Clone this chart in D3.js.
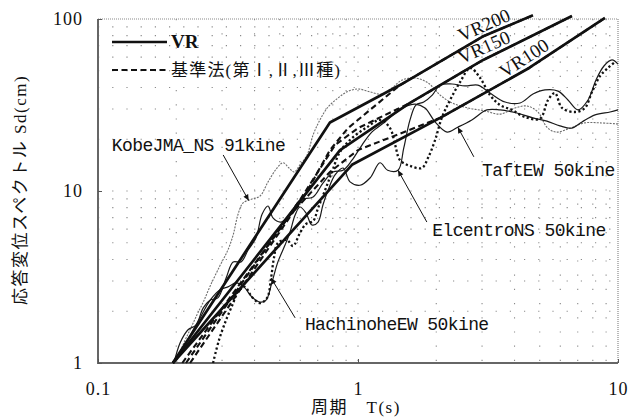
<!DOCTYPE html>
<html>
<head>
<meta charset="utf-8">
<script src="https://cdn.jsdelivr.net/npm/d3@7"></script>
<style>
  body { margin: 0; background: #fff; }
  svg { display: block; }
</style>
</head>
<body>
<svg id="chart" width="635" height="419"></svg>
<script>
// ---- axis ticks ----
const periodTicks = [0.1, 1, 10];
const sdTicks = [1, 10, 100];

// ---- VR design spectra (period s, Sd cm) ----
const vr100T  = [0.194, 0.948, 2.07, 4.55, 8.91];
const vr100Sd = [1, 14.2, 26.6, 51.9, 101.4];
const vr150T  = [0.194, 0.853, 1.585, 3.03, 6.65];
const vr150Sd = [1, 17.3, 32.5, 57.8, 104];
const vr200T  = [0.194, 0.78, 1.451, 3.05, 4.71];
const vr200Sd = [1, 25, 41.3, 79.7, 105];

// ---- 基準法 spectra, ground types I, II, III ----
const kijun1T  = [0.211, 0.548, 0.78, 1.0, 2.07, 4.55, 8.91];
const kijun1Sd = [1, 7.25, 12.9, 17.3, 26.6, 51.9, 101.4];
const kijun2T  = [0.218, 0.598, 0.816, 1.0, 1.585, 3.03, 6.65];
const kijun2Sd = [1, 8.87, 18.5, 23.2, 32.5, 57.8, 104];
const kijun3T  = [0.226, 0.625, 0.78, 0.915, 1.451, 3.05, 4.71];
const kijun3Sd = [1, 9.48, 17.3, 23.2, 41.3, 79.7, 105];

// ---- observed records ----
const kobeT  = [0.20,0.212,0.226,0.240,0.254,0.270,0.294,0.316,0.331,0.345,0.361,0.391,0.420,0.451,0.488,0.515,0.543,0.568,0.598,0.637,0.672,0.714,0.767,0.830,0.907,1.0,1.11,1.24,1.35,1.48,1.66,1.86,2.07,2.30,2.65,3.08,3.52,4.02,4.47,4.92,5.33,5.77,6.54,7.46,8.53,10];
const kobeSd = [1.0,1.27,1.56,1.90,2.26,2.80,3.66,4.54,5.55,7.25,8.51,8.98,9.35,11.3,13.6,14.6,13.6,12.9,14.2,16.2,21.2,25.9,30.8,34.3,37.7,39.2,37.7,36.6,39.7,44.2,45.4,42.5,36.1,32.5,30.4,29.2,28.0,30.4,31.2,28.8,23.5,22.0,23.2,24.9,24.9,24.5];

const taftT  = [0.196,0.207,0.222,0.238,0.254,0.270,0.289,0.311,0.331,0.355,0.378,0.405,0.428,0.451,0.471,0.506,0.548,0.598,0.672,0.733,0.801,0.876,0.948,1.036,1.13,1.27,1.41,1.54,1.66,1.81,1.98,2.20,2.42,2.74,3.13,3.52,4.08,4.71,5.33,5.98,6.65,7.27,8.16,9.32,10];
const taftSd = [1.0,1.31,1.56,1.66,2.09,2.32,2.39,3.12,3.87,3.87,4.54,5.33,7.35,8.18,6.97,6.60,7.35,8.87,9.23,11.1,12.9,13.2,15.1,18.5,22.0,25.2,28.8,31.2,32.0,30.4,25.2,22.0,23.5,25.9,29.6,29.6,28.4,26.6,25.5,23.9,23.2,25.2,27.7,28.8,29.6];

const elcentroT  = [0.196,0.211,0.226,0.247,0.270,0.294,0.316,0.340,0.364,0.391,0.420,0.443,0.467,0.492,0.524,0.548,0.573,0.598,0.631,0.665,0.702,0.733,0.767,0.816,0.876,0.932,1.018,1.112,1.215,1.30,1.425,1.50,1.585,1.67,1.79,1.93,2.07,2.30,2.58,2.89,3.22,3.68,4.20,4.71,5.24,5.88,6.42,7.02,7.67,8.23,8.83,9.48,10];
const elcentroSd = [1.0,1.22,1.45,1.83,2.32,2.66,2.77,2.92,2.77,2.42,2.26,2.32,2.96,3.87,4.85,5.78,7.25,8.07,7.45,6.34,6.60,8.29,10.1,12.4,13.6,11.3,10.8,11.9,14.6,13.2,13.2,17.8,25.9,31.6,32.9,36.1,41.3,41.9,40.8,41.3,37.1,32.9,32.5,36.6,38.7,38.1,33.8,29.6,33.8,44.2,53.3,57.8,54.7];

const hachinoheT  = [0.277,0.292,0.311,0.331,0.345,0.367,0.391,0.420,0.447,0.463,0.475,0.492,0.533,0.562,0.598,0.631,0.672,0.702,0.747,0.794,0.853,0.948,1.083,1.215,1.328,1.39,1.451,1.585,1.76,1.86,1.98,2.10,2.26,2.47,2.70,2.95,3.22,3.52,3.91,4.39,5.01,5.38,5.72,6.09,6.84,7.46,7.94,8.53,9.15,9.72];
const hachinoheSd = [1.0,1.36,1.78,2.23,2.59,2.77,2.42,2.23,2.39,3.12,4.08,4.99,5.19,4.79,5.70,6.43,6.69,7.96,10.1,12.9,16.9,20.3,23.5,25.9,23.2,18.5,15.1,14.0,13.6,15.6,19.8,26.6,33.8,43.0,51.9,45.4,36.1,31.6,29.6,26.9,26.3,33.8,37.1,30.4,28.8,30.4,37.6,46.6,51.9,56.2];

// ---- layout ----
const width = 635, height = 419;
const margin = { left: 98, right: 17, top: 19, bottom: 56 };
const x = d3.scaleLog().domain([0.1, 10]).range([margin.left, width - margin.right]);
const y = d3.scaleLog().domain([1, 100]).range([height - margin.bottom, margin.top]);

const svg = d3.select("#chart");
const serif = "'Liberation Serif', 'Noto Sans CJK JP', serif";
const mono = "'Liberation Mono', 'DejaVu Sans Mono', monospace";

// arrowhead for the record labels
svg.append("defs").append("marker")
  .attr("id", "tip")
  .attr("viewBox", "0 0 10 10")
  .attr("refX", 10).attr("refY", 5)
  .attr("markerWidth", 7).attr("markerHeight", 6)
  .attr("orient", "auto")
  .append("path").attr("d", "M0,0.5 L10,5 L0,9.5 Z").attr("fill", "#111");

// ---- dotted grid at every log step ----
const gridX = [];
const gridY = [];
[0.1, 1].forEach(d => { for (let k = 1; k <= 9; k++) gridX.push(d * k); });
[1, 10].forEach(d => { for (let k = 1; k <= 9; k++) gridY.push(d * k); });
const grid = svg.append("g").attr("stroke", "#8a8a8a").attr("stroke-width", 1.1)
  .attr("stroke-dasharray", "1.2 13");
grid.selectAll("line.gx").data(gridX.filter(v => v > 0.1 && v < 10)).join("line")
  .attr("x1", d => x(d)).attr("x2", d => x(d))
  .attr("y1", y(100)).attr("y2", y(1));
grid.selectAll("line.gy").data(gridY.filter(v => v > 1 && v < 100)).join("line")
  .attr("x1", x(0.1)).attr("x2", x(10))
  .attr("y1", d => y(d)).attr("y2", d => y(d));

// ---- frame: solid left/bottom, dotted top/right ----
svg.append("path")
  .attr("d", `M${x(0.1)},${y(100)} V${y(1)} H${x(10)}`)
  .attr("fill", "none").attr("stroke", "#666").attr("stroke-width", 2);
svg.append("path")
  .attr("d", `M${x(0.1)},${y(100)} H${x(10)} V${y(1)}`)
  .attr("fill", "none").attr("stroke", "#8a8a8a").attr("stroke-width", 1.2)
  .attr("stroke-dasharray", "1 1");

// ---- axes ----
const fmt = d => d3.format("~g")(d);
const xAxis = svg.append("g")
  .attr("transform", `translate(0,${y(1)})`)
  .call(d3.axisBottom(x).tickValues(periodTicks).tickSize(-4).tickPadding(19).tickFormat(fmt));
const yAxis = svg.append("g")
  .attr("transform", `translate(${x(0.1)},0)`)
  .call(d3.axisLeft(y).tickValues(sdTicks).tickSize(-4).tickPadding(15).tickFormat(fmt));
[xAxis, yAxis].forEach(g => {
  g.select(".domain").remove();
  g.selectAll(".tick line").attr("stroke", "#555");
  g.selectAll(".tick text")
    .attr("font-family", serif).attr("font-size", 18).attr("fill", "#111")
    .attr("letter-spacing", 1);
});

// axis titles
svg.append("text")
  .attr("x", 356).attr("y", 413)
  .attr("text-anchor", "middle")
  .attr("font-family", serif).attr("font-size", 17).attr("fill", "#111")
  .attr("letter-spacing", 1.5)
  .text("周期　T(s)");
svg.append("text")
  .attr("transform", "translate(26,190) rotate(-90)")
  .attr("text-anchor", "middle")
  .attr("font-family", serif).attr("font-size", 17).attr("fill", "#111")
  .attr("letter-spacing", 1.5)
  .text("応答変位スペクトル Sd(cm)");

// ---- curves ----
const straight = d3.line().x(d => x(d[0])).y(d => y(d[1]));
const smooth = d3.line().x(d => x(d[0])).y(d => y(d[1])).curve(d3.curveCatmullRom.alpha(0.5));

const plot = svg.append("g").attr("fill", "none");

// records first, design spectra on top
plot.append("path").datum(d3.zip(kobeT, kobeSd)).attr("d", smooth)
  .attr("stroke", "#6e6e6e").attr("stroke-width", 1.1).attr("stroke-dasharray", "2 1.2");
plot.append("path").datum(d3.zip(taftT, taftSd)).attr("d", smooth)
  .attr("stroke", "#1a1a1a").attr("stroke-width", 1.2);
plot.append("path").datum(d3.zip(elcentroT, elcentroSd)).attr("d", smooth)
  .attr("stroke", "#1a1a1a").attr("stroke-width", 1.2);
plot.append("path").datum(d3.zip(hachinoheT, hachinoheSd)).attr("d", smooth)
  .attr("stroke", "#111").attr("stroke-width", 2.3).attr("stroke-dasharray", "2.2 2.4");

[[kijun1T, kijun1Sd], [kijun2T, kijun2Sd], [kijun3T, kijun3Sd]].forEach(([t, s]) => {
  plot.append("path").datum(d3.zip(t, s)).attr("d", straight)
    .attr("stroke", "#111").attr("stroke-width", 2.1).attr("stroke-dasharray", "6 3.5");
});
[[vr100T, vr100Sd], [vr150T, vr150Sd], [vr200T, vr200Sd]].forEach(([t, s]) => {
  plot.append("path").datum(d3.zip(t, s)).attr("d", straight)
    .attr("stroke", "#111").attr("stroke-width", 2.7).attr("stroke-linejoin", "round");
});

// VR labels sitting on their lines
[["VR200", 3.05, 92.3, -24], ["VR150", 3.05, 68.7, -24], ["VR100", 4.35, 59.3, -33]].forEach(([t, T, S, a]) => {
  svg.append("text")
    .attr("transform", `translate(${x(T)},${y(S)}) rotate(${a})`)
    .attr("text-anchor", "middle").attr("dominant-baseline", "central")
    .attr("font-family", serif).attr("font-size", 19).attr("fill", "#111")
    .text(t);
});

// ---- record labels with arrows ----
const notes = [
  { text: "KobeJMA_NS 91kine", lx: 0.113, ly: 17.1, from: [0.303, 16.2], to: [0.38, 8.8] },
  { text: "TaftEW 50kine", lx: 3.0, ly: 12.2, from: [2.79, 15.8], to: [2.42, 23.5] },
  { text: "ElcentroNS 50kine", lx: 1.93, ly: 5.47, from: [1.84, 6.6], to: [1.425, 13.2] },
  { text: "HachinoheEW 50kine", lx: 0.625, ly: 1.56, from: [0.573, 1.83], to: [0.463, 3.12] }
];
notes.forEach(n => {
  svg.append("line")
    .attr("x1", x(n.from[0])).attr("y1", y(n.from[1]))
    .attr("x2", x(n.to[0])).attr("y2", y(n.to[1]))
    .attr("stroke", "#111").attr("stroke-width", 1)
    .attr("marker-end", "url(#tip)");
  svg.append("text")
    .attr("x", x(n.lx)).attr("y", y(n.ly))
    .attr("font-family", mono).attr("font-size", 18).attr("letter-spacing", -0.6)
    .attr("fill", "#111")
    .text(n.text);
});

// ---- legend ----
const legend = svg.append("g");
legend.append("line").attr("x1", 112).attr("x2", 167).attr("y1", 42).attr("y2", 42)
  .attr("stroke", "#111").attr("stroke-width", 2.7);
legend.append("text").attr("x", 171).attr("y", 48)
  .attr("font-family", serif).attr("font-weight", "bold").attr("font-size", 19)
  .attr("fill", "#111").text("VR");
legend.append("line").attr("x1", 112).attr("x2", 167).attr("y1", 70).attr("y2", 70)
  .attr("stroke", "#111").attr("stroke-width", 2.1).attr("stroke-dasharray", "6 3.5");
legend.append("text").attr("x", 171).attr("y", 76)
  .attr("font-family", serif).attr("font-size", 17).attr("letter-spacing", 1.2)
  .attr("fill", "#111").text("基準法(第Ⅰ,Ⅱ,Ⅲ種)");
</script>
</body>
</html>
